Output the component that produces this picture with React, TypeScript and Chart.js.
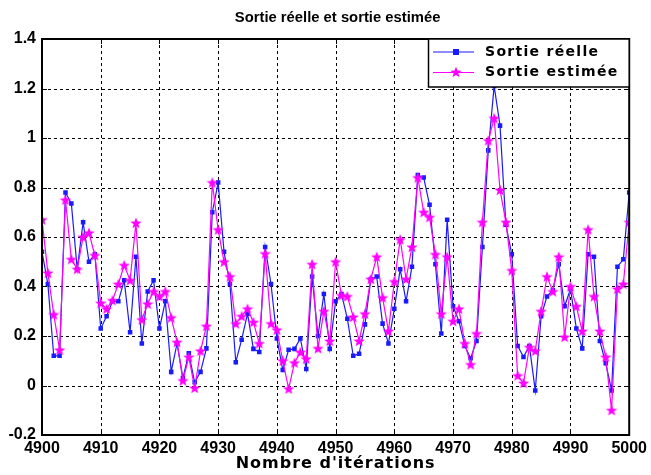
import React, { useEffect, useRef } from "react";
import { Chart, registerables } from "chart.js";

Chart.register(...registerables);

const iterStart = 4900;
const iterEnd = 5000;

const sortieReelle = [
  0.54, 0.41, 0.12, 0.12, 0.78, 0.735, 0.47, 0.66, 0.5, 0.53,
  0.23, 0.28, 0.34, 0.34, 0.425, 0.215, 0.52, 0.17, 0.38, 0.425,
  0.23, 0.34, 0.055, 0.17, 0.03, 0.13, 0.013, 0.055, 0.15, 0.7,
  0.82, 0.54, 0.41, 0.094, 0.185, 0.29, 0.148, 0.135, 0.56, 0.41,
  0.19, 0.063, 0.144, 0.148, 0.19, 0.067, 0.44, 0.2, 0.37, 0.148,
  0.34, 0.37, 0.27, 0.12, 0.128, 0.247, 0.43, 0.44, 0.25, 0.17,
  0.31, 0.47, 0.34, 0.48, 0.85, 0.84, 0.73, 0.49, 0.21, 0.67,
  0.32, 0.26, 0.16, 0.11, 0.18, 0.56, 0.95, 1.21, 1.05, 0.65,
  0.53, 0.16, 0.115, 0.16, -0.02, 0.28, 0.36, 0.385, 0.49, 0.32,
  0.39, 0.23, 0.15, 0.53, 0.52, 0.18, 0.09, -0.02, 0.48, 0.51,
  0.78,
];

const sortieEstimee = [
  0.67, 0.455, 0.287, 0.144, 0.75, 0.51, 0.47, 0.6, 0.617, 0.526,
  0.333, 0.31, 0.344, 0.41, 0.486, 0.425, 0.657, 0.266, 0.33, 0.38,
  0.36, 0.38, 0.274, 0.175, 0.02, 0.115, -0.01, 0.14, 0.24, 0.82,
  0.63, 0.5, 0.44, 0.25, 0.28, 0.31, 0.256, 0.17, 0.533, 0.25,
  0.225, 0.1, -0.013, 0.092, 0.135, 0.108, 0.49, 0.15, 0.3, 0.18,
  0.5, 0.364, 0.36, 0.277, 0.18, 0.29, 0.43, 0.52, 0.355, 0.22,
  0.42, 0.59, 0.43, 0.56, 0.84, 0.7, 0.68, 0.53, 0.29, 0.52,
  0.26, 0.31, 0.17, 0.085, 0.21, 0.66, 0.99, 1.08, 0.79, 0.66,
  0.465, 0.04, 0.01, 0.155, 0.14, 0.3, 0.44, 0.38, 0.52, 0.196,
  0.4, 0.32, 0.22, 0.63, 0.36, 0.22, 0.115, -0.1, 0.39, 0.41,
  0.66,
];

const xTickValues = [4900, 4910, 4920, 4930, 4940, 4950, 4960, 4970, 4980, 4990, 5000];
const yTickValues = [-0.2, 0, 0.2, 0.4, 0.6, 0.8, 1, 1.2, 1.4];

const titleText = "Sortie réelle et sortie estimée";
const xTitleText = "Nombre d'itérations";
const legendLabels = ["Sortie réelle", "Sortie estimée"];

const BLUE = "#1a1aff";
const MAGENTA = "#ff00ff";

function makeStar(size: number, color: string): HTMLCanvasElement {
  const c = document.createElement("canvas");
  c.width = size;
  c.height = size;
  const ctx = c.getContext("2d")!;
  const cx = size / 2;
  const cy = size / 2 + 0.5;
  const R = size / 2;
  const r = R * 0.42;
  ctx.beginPath();
  for (let k = 0; k < 10; k++) {
    const a = -Math.PI / 2 + (k * Math.PI) / 5;
    const rad = k % 2 === 0 ? R : r;
    ctx.lineTo(cx + rad * Math.cos(a), cy + rad * Math.sin(a));
  }
  ctx.closePath();
  ctx.fillStyle = color;
  ctx.fill();
  return c;
}

export default function App() {
  const canvasRef = useRef<HTMLCanvasElement | null>(null);

  useEffect(() => {
    document.body.style.margin = "0";
    const canvas = canvasRef.current;
    if (!canvas) return;
    const star = makeStar(12, MAGENTA);

    const reelleData = sortieReelle.map((v, i) => ({ x: iterStart + i, y: v }));
    const estimeeData = sortieEstimee.map((v, i) => ({ x: iterStart + i, y: v }));

    const gridPlugin = {
      id: "matlabGrid",
      beforeDatasetsDraw(chart: any) {
        const { ctx, chartArea } = chart;
        const xs = chart.scales.x;
        const ys = chart.scales.y;
        const { left, right, top, bottom } = chartArea;
        ctx.save();
        ctx.strokeStyle = "#000";
        ctx.lineWidth = 1;
        ctx.setLineDash([3, 3]);
        ctx.beginPath();
        for (const v of xTickValues) {
          const px = Math.round(xs.getPixelForValue(v)) + 0.5;
          ctx.moveTo(px, top);
          ctx.lineTo(px, bottom);
        }
        for (const v of yTickValues) {
          const py = Math.round(ys.getPixelForValue(v)) + 0.5;
          ctx.moveTo(left, py);
          ctx.lineTo(right, py);
        }
        ctx.stroke();
        ctx.restore();
      },
    };

    const framePlugin = {
      id: "matlabFrame",
      afterDraw(chart: any) {
        const { ctx, chartArea } = chart;
        const xs = chart.scales.x;
        const ys = chart.scales.y;
        const { left, right, top, bottom } = chartArea;
        ctx.save();
        ctx.strokeStyle = "#000";
        ctx.lineWidth = 1;
        ctx.setLineDash([]);
        ctx.beginPath();
        for (const v of xTickValues) {
          const px = Math.round(xs.getPixelForValue(v)) + 0.5;
          ctx.moveTo(px, bottom);
          ctx.lineTo(px, bottom - 5);
          ctx.moveTo(px, top);
          ctx.lineTo(px, top + 5);
        }
        for (const v of yTickValues) {
          const py = Math.round(ys.getPixelForValue(v)) + 0.5;
          ctx.moveTo(left, py);
          ctx.lineTo(left + 5, py);
          ctx.moveTo(right, py);
          ctx.lineTo(right - 5, py);
        }
        ctx.stroke();
        ctx.lineWidth = 2;
        ctx.strokeRect(left, top, right - left, bottom - top);

        ctx.fillStyle = "#000";
        ctx.textAlign = "center";
        ctx.textBaseline = "middle";
        ctx.font = "bold 14.8px 'Liberation Sans', Arial, sans-serif";
        ctx.fillText(titleText, (left + right) / 2 + 2, 18);
        ctx.font = "bold 16px 'DejaVu Sans'";
        (ctx as any).letterSpacing = "1px";
        ctx.fillText(xTitleText, (left + right) / 2, 464);

        const bx = 428;
        const by = top;
        const bw = right - bx;
        const bh = 48;
        (ctx as any).letterSpacing = "0px";
        ctx.fillStyle = "#fff";
        ctx.fillRect(bx, by, bw, bh);
        ctx.lineWidth = 1.5;
        ctx.strokeStyle = "#000";
        ctx.strokeRect(bx + 0.5, by, bw - 0.5, bh);
        const rows = [
          { y: 52, color: BLUE, label: legendLabels[0], marker: "square" },
          { y: 72.5, color: MAGENTA, label: legendLabels[1], marker: "star" },
        ];
        for (const row of rows) {
          ctx.strokeStyle = row.color;
          ctx.lineWidth = 1.2;
          ctx.beginPath();
          ctx.moveTo(433, row.y);
          ctx.lineTo(474, row.y);
          ctx.stroke();
          if (row.marker === "square") {
            ctx.fillStyle = row.color;
            ctx.fillRect(453, row.y - 3, 6, 6);
          } else {
            ctx.drawImage(star, 456 - 6, row.y - 6.5);
          }
          ctx.fillStyle = "#000";
          ctx.textAlign = "left";
          ctx.font = "bold 14px 'DejaVu Sans'";
          (ctx as any).letterSpacing = "1.3px";
          ctx.fillText(row.label, 485, row.y);
          (ctx as any).letterSpacing = "0px";
        }
        ctx.restore();
      },
    };

    const tickFont = { family: "'Liberation Sans', Arial, sans-serif", weight: "bold" as const, size: 16 };

    const chart = new Chart(canvas, {
      type: "line",
      data: {
        datasets: [
          {
            label: legendLabels[0],
            data: reelleData,
            borderColor: BLUE,
            backgroundColor: BLUE,
            borderWidth: 1.2,
            pointStyle: "rect",
            pointRadius: 3.2,
            pointBorderWidth: 0,
            pointBackgroundColor: BLUE,
            tension: 0,
            order: 1,
          },
          {
            label: legendLabels[1],
            data: estimeeData,
            borderColor: MAGENTA,
            backgroundColor: MAGENTA,
            borderWidth: 1.2,
            pointStyle: star as any,
            pointRadius: 6,
            tension: 0,
            order: 0,
          },
        ],
      },
      options: {
        animation: false,
        responsive: false,
        maintainAspectRatio: false,
        layout: { padding: { top: 39, right: 20, left: 0, bottom: 0 } },
        plugins: {
          legend: { display: false },
          title: { display: false },
          tooltip: { enabled: false },
        },
        scales: {
          x: {
            type: "linear",
            min: iterStart,
            max: iterEnd,
            afterFit: (s: any) => {
              s.height = 40;
            },
            afterBuildTicks: (s: any) => {
              s.ticks = xTickValues.map((v) => ({ value: v }));
            },
            grid: { display: false, drawTicks: false, tickLength: 0 },
            border: { display: false },
            ticks: {
              autoSkip: false,
              maxRotation: 0,
              padding: 4,
              color: "#000",
              font: tickFont,
              callback: (v: any) => String(v),
            },
          },
          y: {
            type: "linear",
            min: -0.2,
            max: 1.4,
            afterFit: (s: any) => {
              s.width = 42;
            },
            afterBuildTicks: (s: any) => {
              s.ticks = yTickValues.map((v) => ({ value: v }));
            },
            grid: { display: false, drawTicks: false, tickLength: 0 },
            border: { display: false },
            ticks: {
              padding: 6,
              color: "#000",
              font: tickFont,
              callback: (v: any) => String(Number(Number(v).toFixed(1))),
            },
          },
        },
      },
      plugins: [gridPlugin, framePlugin],
    });

    return () => {
      chart.destroy();
    };
  }, []);

  return (
    <div style={{ position: "absolute", left: 0, top: 0, width: 651, height: 475, background: "#fff" }}>
      <canvas ref={canvasRef} width={651} height={475} style={{ display: "block" }} />
    </div>
  );
}
